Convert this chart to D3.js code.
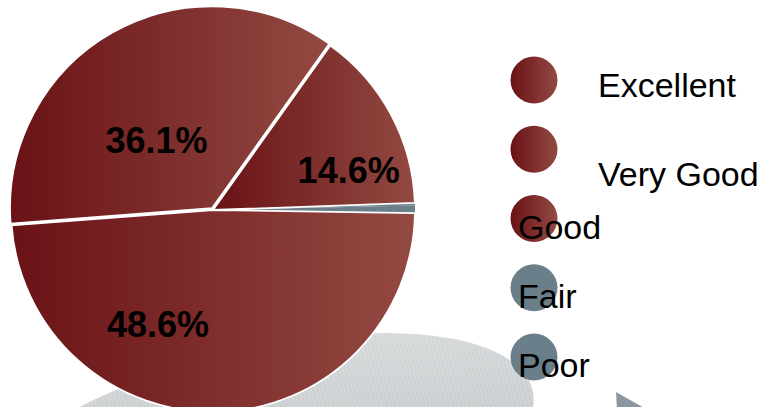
<!DOCTYPE html>
<html>
<head>
<meta charset="utf-8">
<script src="https://cdn.jsdelivr.net/npm/d3@7"></script>
<style>
  body { margin: 0; background: #fff; }
  svg { display: block; font-family: "Liberation Sans", Arial, sans-serif; }
</style>
</head>
<body>
<div id="chart"></div>
<script>
// categories and shares (percent)
const categories = ["Excellent", "Very Good", "Good", "Fair", "Poor"];
const shares = [14.6, 36.1, 48.6, 0.6, 0.2];
// which slices get the red look, the rest are slate grey
const groups = ["red", "red", "red", "grey", "grey"];
// only the three large slices carry a label
const showLabel = [true, true, true, false, false];

const width = 766;
const height = 407;

const svg = d3.select("#chart")
    .append("svg")
    .attr("width", width)
    .attr("height", height);

const defs = svg.append("defs");

// horizontal gradient used by every red slice and red legend dot
const redGrad = defs.append("linearGradient")
    .attr("id", "redGrad")
    .attr("x1", 0).attr("x2", 1).attr("y1", 0).attr("y2", 0);
redGrad.append("stop").attr("offset", "0%").attr("stop-color", "#6a1216");
redGrad.append("stop").attr("offset", "100%").attr("stop-color", "#934a42");

// soft grey for the background ellipse
const greyGrad = defs.append("linearGradient")
    .attr("id", "greyGrad")
    .attr("x1", 0.1).attr("x2", 0.6).attr("y1", 1).attr("y2", 0);
greyGrad.append("stop").attr("offset", "0%").attr("stop-color", "#b0b4b7");
greyGrad.append("stop").attr("offset", "100%").attr("stop-color", "#d6d9da");

// faint vertical stripes on the background
const stripes = defs.append("pattern")
    .attr("id", "stripes")
    .attr("patternUnits", "userSpaceOnUse")
    .attr("width", 4).attr("height", 4);
stripes.append("rect")
    .attr("width", 1).attr("height", 4)
    .attr("fill", "#ffffff").attr("opacity", 0.18);

const fillOf = g => g === "red" ? "url(#redGrad)" : "#6b7f8a";

// background decoration: tilted grey ellipse and a dark wedge
const bg = svg.append("g")
    .attr("transform", "translate(250,460) rotate(-14)");
bg.append("ellipse").attr("rx", 291).attr("ry", 109).attr("fill", "url(#greyGrad)");
bg.append("ellipse").attr("rx", 291).attr("ry", 109).attr("fill", "url(#stripes)");

svg.append("path")
    .attr("d", "M616,392 L646,409 L617,409 Z")
    .attr("fill", "#8c96a2");

// pie
const cx = 213, cy = 210, radius = 202;
const a0 = 88 * Math.PI / 180;

const pie = d3.pie()
    .sort(null)
    .value(d => d)
    .startAngle(a0)
    .endAngle(a0 - 2 * Math.PI);

const arcs = pie(shares);

const arc = d3.arc().innerRadius(0).outerRadius(radius);
const labelArc = d3.arc().innerRadius(radius * 0.65).outerRadius(radius * 0.65);

// the Very Good slice sits a little out from the centre
const explode = [0, 2, 0, 0, 0];

const gPie = svg.append("g").attr("transform", `translate(${cx},${cy})`);

// grey slices first so the white edges of the red ones sit on top
const order = arcs.map((d, i) => i).sort((a, b) => (groups[a] === "red") - (groups[b] === "red"));

gPie.selectAll(".slice")
    .data(order)
    .enter()
    .append("path")
    .attr("class", "slice")
    .attr("d", i => arc(arcs[i]))
    .attr("transform", i => {
        const d = arcs[i];
        const m = (d.startAngle + d.endAngle) / 2;
        return `translate(${explode[i] * Math.sin(m)},${-explode[i] * Math.cos(m)})`;
    })
    .attr("fill", i => fillOf(groups[i]))
    .attr("stroke", i => groups[i] === "red" ? "#ffffff" : "none")
    .attr("stroke-width", 1.8)
    .attr("stroke-linejoin", "round");

// labels are nudged from the centroid like in the original layout
const nudge = [[20, 23], [8, 45], [-59, -17]];

gPie.selectAll(".pct")
    .data(arcs.filter((d, i) => showLabel[i]))
    .enter()
    .append("text")
    .attr("class", "pct")
    .attr("x", (d, i) => labelArc.centroid(d)[0] + nudge[i][0])
    .attr("y", (d, i) => labelArc.centroid(d)[1] + nudge[i][1])
    .attr("dy", "0.35em")
    .attr("text-anchor", "middle")
    .attr("font-size", 36)
    .attr("font-weight", "bold")
    .attr("fill", "#000")
    .text(d => d3.format(".1f")(d.data) + "%");

// legend
const legendY = d3.scalePoint()
    .domain(categories)
    .range([80, 357]);

const legendX = 534;
const labelDx = [64, 64, -16, -16, -16];
const labelDy = [17, 37, 20, 20, 20];

const legend = svg.append("g");

legend.selectAll("circle")
    .data(categories)
    .enter()
    .append("circle")
    .attr("cx", legendX)
    .attr("cy", d => legendY(d))
    .attr("r", 23.5)
    .attr("fill", (d, i) => fillOf(groups[i]));

legend.selectAll("text")
    .data(categories)
    .enter()
    .append("text")
    .attr("x", (d, i) => legendX + labelDx[i])
    .attr("y", (d, i) => legendY(d) + labelDy[i])
    .attr("font-size", 34)
    .attr("fill", "#000")
    .text(d => d);
</script>
</body>
</html>
